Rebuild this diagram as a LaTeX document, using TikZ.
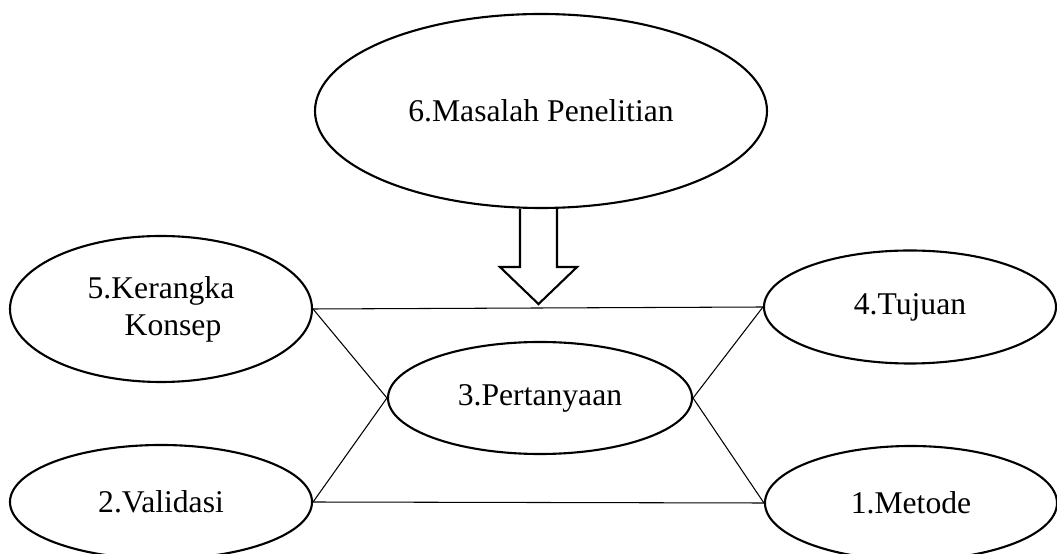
\documentclass[tikz,border=0pt]{standalone}
\usepackage{fontspec}
\setmainfont{Liberation Serif}
\usetikzlibrary{shapes,positioning,calc}

\begin{document}
\begin{tikzpicture}[
    topic/.style={ellipse, draw=black, line width=1.2pt, inner sep=0pt,
                  align=center, font=\fontsize{18}{21}\selectfont},
    link/.style={draw=black, line width=0.6pt},
    hollow/.style={draw=black, line width=1.2pt, line join=miter}]

\useasboundingbox (0,0) rectangle (21.14,11.06);

% Topics
\node[topic, minimum width=9.04cm, minimum height=3.88cm] (t6) at (10.82,8.84) {6.Masalah Penelitian};
\node[topic, minimum width=6.04cm, minimum height=2.92cm] (t5) at (3.22,4.88) {5.Kerangka\\\hspace*{0.48cm}Konsep};
\node[topic, minimum width=5.84cm, minimum height=2.26cm] (t4) at (18.20,4.92) {4.Tujuan};
\node[topic, minimum width=6.08cm, minimum height=2.24cm] (t3) at (10.80,3.10) {3.Pertanyaan};
\node[topic, minimum width=6.04cm, minimum height=2.28cm] (t2) at (3.22,1.02) {2.Validasi};
\node[topic, minimum width=5.84cm, minimum height=2.28cm] (t1) at (18.22,1.00) {1.Metode};

% Links
\draw[link] (t5.east) -- (t4.west);
\draw[link] (t5.east) -- (t3.west);
\draw[link] (t2.east) -- (t3.west);
\draw[link] (t3.east) -- (t4.west);
\draw[link] (t3.east) -- (t1.west);
\draw[link] (t2.east) -- (t1.west);

% Block arrow
\draw[hollow] ($(t6.south)+(-0.42,0)$) -- ++(0,-1.16) -- ++(-0.40,0)
    -- ($(t6.south)+(-0.05,-1.90)$) -- ++(0.77,0.74) -- ++(-0.40,0) -- ++(0,1.16);
\end{tikzpicture}
\end{document}
